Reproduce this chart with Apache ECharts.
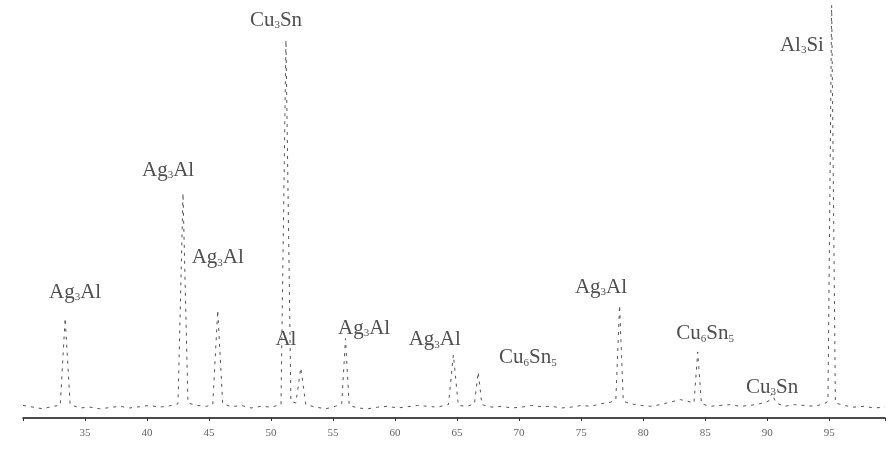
<!DOCTYPE html>
<html>
<head>
<meta charset="utf-8">
<script src="https://cdn.jsdelivr.net/npm/echarts@6/dist/echarts.min.js"></script>
<style>
  html, body { margin: 0; padding: 0; background: #fff; }
  #main { width: 888px; height: 460px; }
</style>
</head>
<body>
<div id="main"></div>
<script>
// 2-theta positions (degrees) and intensity (a.u.)
var twoTheta = [30, 30.8, 31.6, 32.4, 33.0, 33.4, 33.8, 34.6, 35.4, 36.2, 37.0, 37.8, 38.6, 39.4, 40.2, 41.0, 41.8, 42.5, 42.9, 43.3, 44.0, 44.8, 45.3, 45.7, 46.1, 46.8, 47.6, 48.4, 49.2, 50.0, 50.8, 51.2, 51.6, 52.0, 52.4, 52.8, 53.6, 54.4, 55.2, 55.7, 56.0, 56.3, 57.0, 57.8, 58.6, 59.4, 60.2, 61.0, 61.8, 62.6, 63.4, 64.3, 64.7, 65.1, 65.8, 66.4, 66.7, 67.0, 67.8, 68.6, 69.4, 70.2, 71.0, 71.8, 72.6, 73.4, 74.2, 75.0, 75.8, 76.6, 77.4, 77.8, 78.1, 78.4, 79.0, 79.8, 80.6, 81.4, 82.2, 83.0, 83.6, 84.1, 84.4, 84.7, 85.4, 86.2, 87.0, 87.8, 88.6, 89.4, 90.1, 90.4, 90.7, 91.4, 92.2, 93.0, 93.8, 94.6, 94.9, 95.2, 95.5, 96.2, 97.0, 97.8, 98.6, 99.5];
var intensity = [30, 26, 22, 28, 30, 239, 32, 24, 26, 22, 25, 28, 24, 27, 30, 26, 29, 34, 538, 36, 30, 28, 32, 258, 34, 27, 30, 24, 28, 26, 32, 904, 40, 36, 120, 32, 26, 22, 28, 34, 190, 30, 24, 22, 26, 28, 24, 27, 30, 28, 26, 32, 151, 30, 28, 34, 110, 32, 26, 28, 24, 26, 30, 27, 28, 24, 26, 30, 28, 34, 38, 44, 270, 40, 34, 30, 28, 32, 38, 44, 40, 36, 158, 34, 28, 30, 32, 28, 30, 34, 40, 60, 36, 28, 32, 30, 28, 34, 40, 988, 36, 30, 26, 28, 24, 26];

// phase labels and where they sit (2-theta, intensity)
var labelText = ['Cu_3Sn', 'Al_3Si', 'Ag_3Al', 'Ag_3Al', 'Ag_3Al', 'Al', 'Ag_3Al', 'Ag_3Al', 'Cu_6Sn_5', 'Ag_3Al', 'Cu_6Sn_5', 'Cu_3Sn'];
var labelX = [50.4, 92.8, 41.7, 45.7, 34.2, 51.2, 57.5, 63.2, 70.7, 76.6, 85.0, 90.4];
var labelY = [952, 892, 593, 383, 301, 187, 215, 187, 144, 313, 201, 74];

var xTicks = [35, 40, 45, 50, 55, 60, 65, 70, 75, 80, 85, 90, 95];

var chartDom = document.getElementById('main');
var myChart = echarts.init(chartDom);

var pattern = [];
for (var i = 0; i < Math.min(twoTheta.length, intensity.length); i++) {
  pattern.push([twoTheta[i], intensity[i]]);
}
var labels = labelText.map(function (t, i) {
  return { name: t, value: [labelX[i], labelY[i]] };
});

var option = {
  animation: false,
  backgroundColor: '#fff',
  grid: { left: 23, right: 0, top: 0, bottom: 42 },
  xAxis: {
    type: 'value',
    min: 30,
    max: 99.5,
    interval: 5,
    axisLine: { lineStyle: { color: '#111', width: 1.5 } },
    axisTick: { show: true, length: 3, lineStyle: { color: '#333' } },
    splitLine: { show: false },
    axisLabel: {
      color: '#666',
      fontFamily: 'Liberation Serif',
      fontSize: 11,
      margin: 10,
      formatter: function (v) {
        return xTicks.indexOf(v) >= 0 ? String(v) : '';
      }
    }
  },
  yAxis: {
    type: 'value',
    min: 0,
    max: 1000,
    axisLine: { show: false },
    axisTick: { show: false },
    axisLabel: { show: false },
    splitLine: { show: false }
  },
  series: [
    {
      type: 'line',
      data: pattern,
      symbol: 'none',
      lineStyle: { color: '#555', width: 1, type: [3, 5] }
    },
    {
      type: 'scatter',
      data: labels,
      symbolSize: 0,
      label: {
        show: true,
        position: 'inside',
        color: '#222',
        fontFamily: 'Liberation Serif',
        fontSize: 21,
        formatter: function (p) {
          return p.name.replace(/_(\d)/g, '{s|$1}');
        },
        rich: {
          s: { fontFamily: 'Liberation Serif', fontSize: 11, color: '#222', verticalAlign: 'bottom', padding: [8, 0, 0, 0] }
        }
      }
    }
  ]
};

option && myChart.setOption(option);
</script>
</body>
</html>
